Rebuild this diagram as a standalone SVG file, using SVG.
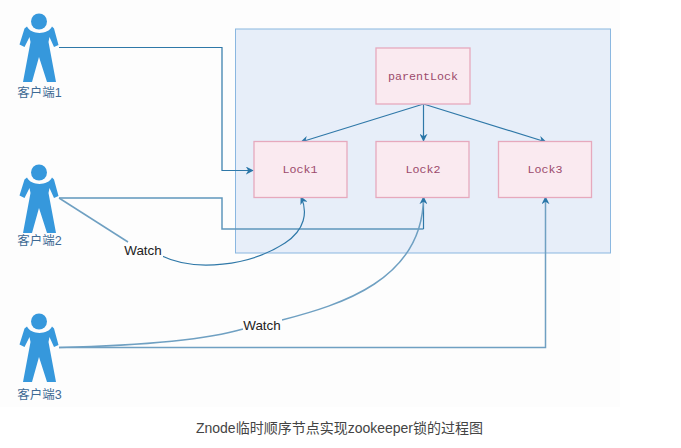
<svg xmlns="http://www.w3.org/2000/svg" width="681" height="448" viewBox="0 0 681 448">
<style>
.lbl{font-family:"Liberation Sans","Noto Sans CJK SC",sans-serif;font-size:12.500px;fill:#3d6a94;text-anchor:middle}
.lock{fill:#faeaf0;stroke:#e6a9bd;stroke-width:1.3}
.locktxt{font-family:"Liberation Mono",monospace;font-size:11.700px;fill:#9c4a6c;text-anchor:middle}
.c{fill:none;stroke:#2f78a8;stroke-width:1.2}
.s{fill:none;stroke:#6fa0c2;stroke-width:1.500}
.w{font-family:"Liberation Sans",sans-serif;font-size:13.400px;fill:#222;text-anchor:middle}
</style>
<defs>
<marker id="a" viewBox="0 0 10 10" refX="9" refY="5" markerWidth="8" markerHeight="8" markerUnits="userSpaceOnUse" orient="auto"><path d="M0 0L10 5L0 10L3 5Z" fill="#2a76a8"/></marker>
<g id="person" fill="#3698dc">
<circle cx="39" cy="21.500" r="8"/>
<path d="M27 26.500C31 35 48 35 52 26.500L54 28.500L58.500 45L54 47L49.500 37L48.500 42L56 82H47L39 57L32 82H23L30.500 42L29.500 37L24.500 47L19.500 44.500L24.500 28.500Z"/>
</g>
</defs>
<rect width="681" height="448" fill="#fff"/>
<rect x="0" y="0" width="620" height="407" fill="#fdfdfd"/>
<g id="panel"><rect x="235.500" y="29" width="375" height="224" fill="#e7eef9" stroke="#8ab7e0" stroke-width="1"/></g>
<g id="connectors">
<path class="c" d="M59 47.500H222V170.500H253" marker-end="url(#a)"/>
<path class="s" d="M59 198H222V229H423.500" style="stroke:#5f97bc"/>
<path class="c" d="M423.500 229V197"/>
<path class="c" d="M423.500 104L301 142" marker-end="url(#a)"/>
<path class="c" d="M423.500 104V141" marker-end="url(#a)"/>
<path class="c" d="M423.500 104L546 142" marker-end="url(#a)"/>
<path class="s" d="M59 198L128 242"/>
<path class="c" d="M162 256C195 272 250 266 285 243C305 230 308 212 301 197" marker-end="url(#a)"/>
<path class="s" d="M59 347.500C120 346 200 342 243 329"/>
<path class="s" d="M282 320C340 305 423 280 423.500 197" marker-end="url(#a)"/>
<path class="s" d="M59 347.500H545.500V197" marker-end="url(#a)"/>
<rect x="123" y="243" width="40" height="15" fill="#fdfdfd"/>
<rect x="243" y="319" width="39" height="15" fill="#fdfdfd"/>
</g>
<g id="client1"><use href="#person"/><text class="lbl" x="39.500" y="97">客户端1</text></g>
<g id="client2"><use href="#person" y="151"/><text class="lbl" x="39.500" y="245">客户端2</text></g>
<g id="client3"><use href="#person" y="300"/><text class="lbl" x="39.500" y="399">客户端3</text></g>
<g id="parentLock"><rect class="lock" x="376" y="48" width="94" height="56"/><text class="locktxt" x="423" y="80">parentLock</text></g>
<g id="lock1"><rect class="lock" x="254" y="141.500" width="93" height="56"/><text class="locktxt" x="300" y="173">Lock1</text></g>
<g id="lock2"><rect class="lock" x="376" y="141.500" width="93" height="56"/><text class="locktxt" x="423" y="173">Lock2</text></g>
<g id="lock3"><rect class="lock" x="498.500" y="141.500" width="93" height="56"/><text class="locktxt" x="545" y="173">Lock3</text></g>
<text class="w" x="143" y="255">Watch</text>
<text class="w" x="262" y="330">Watch</text>
<text x="339.500" y="433" text-anchor="middle" font-family="'Liberation Sans','Noto Sans CJK SC',sans-serif" font-size="14px" fill="#444">Znode临时顺序节点实现zookeeper锁的过程图</text>
</svg>
